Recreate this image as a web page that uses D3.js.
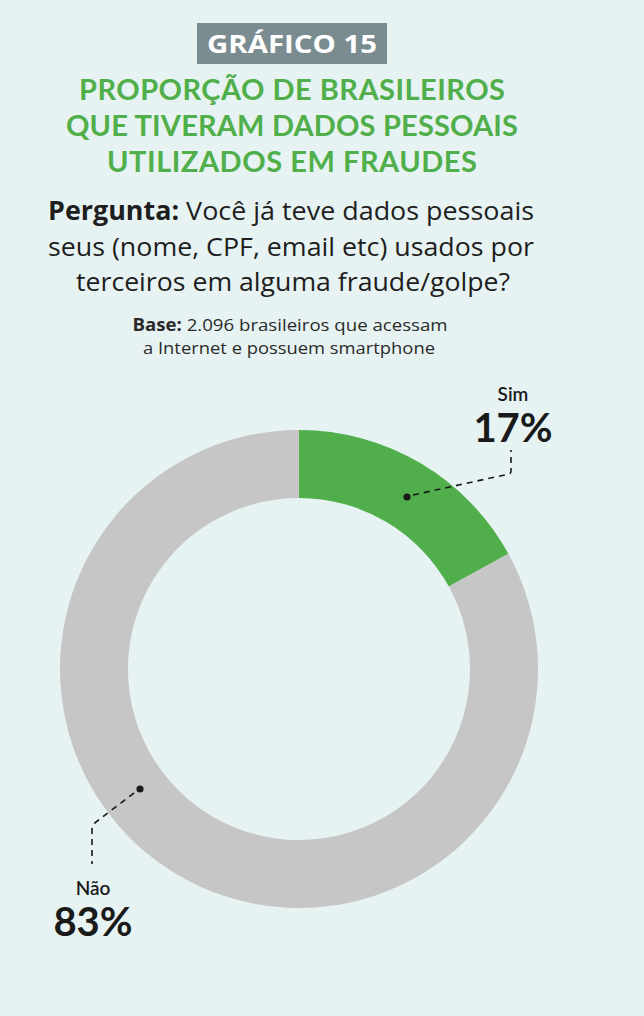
<!DOCTYPE html>
<html><head><meta charset="utf-8">
<script src="https://cdn.jsdelivr.net/npm/d3@7"></script>
<style>html,body{margin:0;padding:0;background:#e6f3f2;}svg{display:block;}</style>
</head><body>
<script>
const categories = ["Sim", "Não"];
const values = [17, 83];
const valueLabels = ["17%", "83%"];
const colors = ["#50af4a", "#c6c6c6"];
const titleLines = ["PROPORÇÃO DE BRASILEIROS", "QUE TIVERAM DADOS PESSOAIS", "UTILIZADOS EM FRAUDES"];

const W = 644, H = 1016;
const svg = d3.select("body").append("svg").attr("width", W).attr("height", H);
svg.append("rect").attr("width", W).attr("height", H).attr("fill", "#e6f3f2");

const font = "Lato, 'Open Sans', sans-serif";
const font2 = "'Open Sans', Lato, sans-serif";

// Badge
svg.append("rect").attr("x", 197).attr("y", 23).attr("width", 190).attr("height", 41).attr("fill", "#7b8c91");
svg.append("text").attr("x", 292).attr("y", 53).attr("text-anchor", "middle")
  .attr("font-family", font2).attr("font-weight", 700).attr("font-size", 25).attr("fill", "#fff")
  .attr("textLength", 170).attr("lengthAdjust", "spacingAndGlyphs").text("GRÁFICO 15");

// Green title
const titleW = [426, 452, 370];
svg.selectAll("text.title").data(titleLines).join("text").attr("class", "title")
  .attr("x", 292).attr("y", (d, i) => 100 + i * 36).attr("text-anchor", "middle")
  .attr("font-family", font).attr("font-weight", 700).attr("font-size", 29).attr("fill", "#50af4a")
  .attr("textLength", (d, i) => titleW[i]).attr("lengthAdjust", "spacing").text(d => d);

// Question
const q = svg.append("g").attr("font-family", font2).attr("font-size", 26).attr("fill", "#1e1e1e").attr("text-anchor", "middle");
const t1 = q.append("text").attr("x", 291).attr("y", 220).attr("textLength", 486).attr("lengthAdjust", "spacingAndGlyphs");
t1.append("tspan").attr("font-weight", 700).text("Pergunta:");
t1.append("tspan").text(" Você já teve dados pessoais");
q.append("text").attr("x", 291).attr("y", 256).attr("textLength", 486).attr("lengthAdjust", "spacingAndGlyphs").text("seus (nome, CPF, email etc) usados por");
q.append("text").attr("x", 293).attr("y", 291).attr("textLength", 434).attr("lengthAdjust", "spacingAndGlyphs").text("terceiros em alguma fraude/golpe?");

// Base
const b = svg.append("g").attr("font-family", font2).attr("font-size", 17).attr("fill", "#2a2a2a").attr("text-anchor", "middle");
const b1 = b.append("text").attr("x", 290).attr("y", 331).attr("textLength", 315).attr("lengthAdjust", "spacingAndGlyphs");
b1.append("tspan").attr("font-weight", 700).text("Base:");
b1.append("tspan").text(" 2.096 brasileiros que acessam");
b.append("text").attr("x", 289).attr("y", 354).attr("textLength", 292).attr("lengthAdjust", "spacingAndGlyphs").text("a Internet e possuem smartphone");

// Donut
const cx = 299, cy = 669, rOut = 239, rIn = 171;
const pie = d3.pie().sort(null).value(d => d.v);
const arcs = pie(categories.map((c, i) => ({c, v: values[i], col: colors[i]})));
const arc = d3.arc().innerRadius(rIn).outerRadius(rOut);
const g = svg.append("g").attr("transform", `translate(${cx},${cy})`);
g.selectAll("path").data(arcs).join("path").attr("d", arc).attr("fill", d => d.data.col);

// Callouts
const ann = svg.append("g").attr("stroke", "#1a1a1a").attr("stroke-width", 1.6).attr("fill", "none").attr("stroke-dasharray", "6,5");
ann.append("path").attr("d", "M413,495 L509,474 Q511,473.5 511,471 L511,450");
ann.append("path").attr("d", "M134,793 L96,822 Q92,825 92,830 L92,864");
svg.append("circle").attr("cx", 407).attr("cy", 497).attr("r", 3.6).attr("fill", "#1a1a1a");
svg.append("circle").attr("cx", 140).attr("cy", 789).attr("r", 3.6).attr("fill", "#1a1a1a");

const labPos = [[513, 401, 442], [93, 895, 936]];
categories.forEach((c, i) => {
  svg.append("text").attr("x", labPos[i][0]).attr("y", labPos[i][1]).attr("text-anchor", "middle")
    .attr("font-family", font).attr("font-weight", 600).attr("font-size", 19).attr("fill", "#1a1a1a").text(c);
  svg.append("text").attr("x", labPos[i][0]).attr("y", labPos[i][2]).attr("text-anchor", "middle")
    .attr("font-family", font).attr("font-weight", 700).attr("font-size", 40).attr("fill", "#1a1a1a").text(valueLabels[i]);
});
</script>
</body></html>
